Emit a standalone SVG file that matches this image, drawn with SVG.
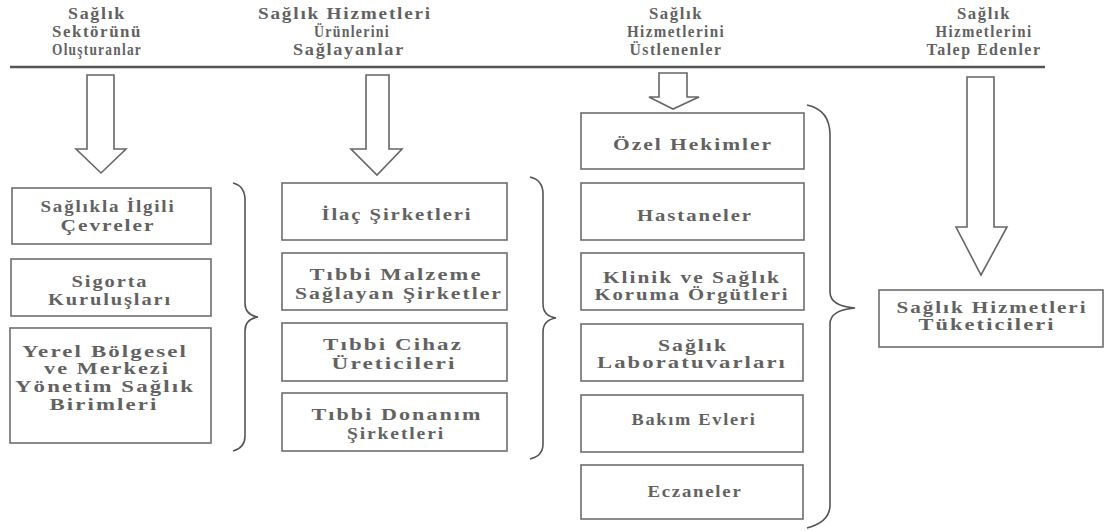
<svg xmlns="http://www.w3.org/2000/svg" width="1105" height="531" viewBox="0 0 1105 531">
<style>
text{font-family:"Liberation Serif","Times New Roman",serif;font-size:16px;font-weight:bold;fill:#626262;text-anchor:middle;letter-spacing:1.5px}
.box{fill:#fff;stroke:#6e6e6e;stroke-width:1.6}
.arrow{fill:#fff;stroke:#666;stroke-width:1.6;stroke-linejoin:miter}
.brace{fill:none;stroke:#555;stroke-width:1.6}
.rule{stroke:#555;stroke-width:2.6}
</style>
<rect width="1105" height="531" fill="#fff"/>
<g id="headers">
<g id="h1">
<text x="97" y="19" textLength="58" lengthAdjust="spacingAndGlyphs">Sağlık</text>
<text x="97" y="37" textLength="90" lengthAdjust="spacingAndGlyphs">Sektörünü</text>
<text x="97" y="55" textLength="90" lengthAdjust="spacingAndGlyphs">Oluşturanlar</text>
</g>
<g id="h2">
<text x="345" y="19" textLength="174" lengthAdjust="spacingAndGlyphs">Sağlık Hizmetleri</text>
<text x="352" y="37" textLength="76" lengthAdjust="spacingAndGlyphs">Ürünlerini</text>
<text x="349" y="55" textLength="112" lengthAdjust="spacingAndGlyphs">Sağlayanlar</text>
</g>
<g id="h3">
<text x="676" y="19" textLength="54" lengthAdjust="spacingAndGlyphs">Sağlık</text>
<text x="676" y="37" textLength="98" lengthAdjust="spacingAndGlyphs">Hizmetlerini</text>
<text x="676" y="55" textLength="93" lengthAdjust="spacingAndGlyphs">Üstlenenler</text>
</g>
<g id="h4">
<text x="984" y="19" textLength="54" lengthAdjust="spacingAndGlyphs">Sağlık</text>
<text x="984" y="37" textLength="97" lengthAdjust="spacingAndGlyphs">Hizmetlerini</text>
<text x="984" y="55" textLength="115" lengthAdjust="spacingAndGlyphs">Talep Edenler</text>
</g>
<line class="rule" x1="10" y1="67" x2="1045" y2="67"/>
</g>
<g id="connectors">
<path class="arrow" d="M87,75 H114 V149 H126 L101,173 L76,149 H87 Z"/>
<path class="arrow" d="M366,75 H389 V149 H402 L377,175 L351,149 H366 Z"/>
<path class="arrow" d="M659,73 H687 V97 H699 L673,109 L649,97 H659 Z"/>
<path class="arrow" d="M967,77 H994 V227 H1007 L981,275 L956,227 H967 Z"/>
<path class="brace" d="M233,183 Q245,186 245,200 V303 Q245,315 258,317 Q245,319 245,331 V436 Q245,448 233,451"/>
<path class="brace" d="M530,177 Q543,180 543,194 V304 Q543,316 556,318 Q543,320 543,332 V444 Q543,456 530,459"/>
<path class="brace" d="M807,105 Q830,110 830,135 V292 Q830,306 855,308 Q830,310 830,324 V505 Q830,522 807,528"/>
</g>
<g id="n-saglikla">
<rect class="box" x="12" y="188" width="199" height="56"/>
<text x="108" y="212" textLength="135" lengthAdjust="spacingAndGlyphs">Sağlıkla İlgili</text>
<text x="108" y="231" textLength="95" lengthAdjust="spacingAndGlyphs">Çevreler</text>
</g>
<g id="n-sigorta">
<rect class="box" x="11" y="259" width="200" height="57"/>
<text x="110" y="287" textLength="77" lengthAdjust="spacingAndGlyphs">Sigorta</text>
<text x="110" y="305" textLength="124" lengthAdjust="spacingAndGlyphs">Kuruluşları</text>
</g>
<g id="n-yerel">
<rect class="box" x="10" y="328" width="201" height="115"/>
<text x="105" y="357" textLength="166" lengthAdjust="spacingAndGlyphs">Yerel Bölgesel</text>
<text x="107" y="374" textLength="126" lengthAdjust="spacingAndGlyphs">ve Merkezi</text>
<text x="105" y="392" textLength="180" lengthAdjust="spacingAndGlyphs">Yönetim Sağlık</text>
<text x="104" y="410" textLength="109" lengthAdjust="spacingAndGlyphs">Birimleri</text>
</g>
<g id="n-ilac">
<rect class="box" x="282" y="183" width="225" height="57"/>
<text x="397" y="220" textLength="151" lengthAdjust="spacingAndGlyphs">İlaç Şirketleri</text>
</g>
<g id="n-malzeme">
<rect class="box" x="282" y="253" width="225" height="57"/>
<text x="396" y="280" textLength="173" lengthAdjust="spacingAndGlyphs">Tıbbi Malzeme</text>
<text x="399" y="299" textLength="208" lengthAdjust="spacingAndGlyphs">Sağlayan Şirketler</text>
</g>
<g id="n-cihaz">
<rect class="box" x="282" y="323" width="225" height="58"/>
<text x="393" y="350" textLength="140" lengthAdjust="spacingAndGlyphs">Tıbbi Cihaz</text>
<text x="394" y="369" textLength="125" lengthAdjust="spacingAndGlyphs">Üreticileri</text>
</g>
<g id="n-donanim">
<rect class="box" x="282" y="393" width="225" height="58"/>
<text x="397" y="420" textLength="171" lengthAdjust="spacingAndGlyphs">Tıbbi Donanım</text>
<text x="396" y="439" textLength="98" lengthAdjust="spacingAndGlyphs">Şirketleri</text>
</g>
<g id="n-ozel">
<rect class="box" x="581" y="113" width="223" height="56"/>
<text x="693" y="150" textLength="160" lengthAdjust="spacingAndGlyphs">Özel Hekimler</text>
</g>
<g id="n-hastaneler">
<rect class="box" x="581" y="183" width="223" height="57"/>
<text x="695" y="221" textLength="116" lengthAdjust="spacingAndGlyphs">Hastaneler</text>
</g>
<g id="n-klinik">
<rect class="box" x="581" y="253" width="223" height="57"/>
<text x="692" y="283" textLength="178" lengthAdjust="spacingAndGlyphs">Klinik ve Sağlık</text>
<text x="692" y="300" textLength="195" lengthAdjust="spacingAndGlyphs">Koruma Örgütleri</text>
</g>
<g id="n-lab">
<rect class="box" x="581" y="324" width="222" height="57"/>
<text x="693" y="351" textLength="70" lengthAdjust="spacingAndGlyphs">Sağlık</text>
<text x="692" y="368" textLength="190" lengthAdjust="spacingAndGlyphs">Laboratuvarları</text>
</g>
<g id="n-bakim">
<rect class="box" x="581" y="395" width="222" height="57"/>
<text x="694" y="425" textLength="125" lengthAdjust="spacingAndGlyphs">Bakım Evleri</text>
</g>
<g id="n-eczaneler">
<rect class="box" x="581" y="465" width="222" height="54"/>
<text x="695" y="497" textLength="95" lengthAdjust="spacingAndGlyphs">Eczaneler</text>
</g>
<g id="n-tuketiciler">
<rect class="box" x="879" y="290" width="224" height="57"/>
<text x="992" y="313" textLength="191" lengthAdjust="spacingAndGlyphs">Sağlık Hizmetleri</text>
<text x="987" y="330" textLength="137" lengthAdjust="spacingAndGlyphs">Tüketicileri</text>
</g>
</svg>
